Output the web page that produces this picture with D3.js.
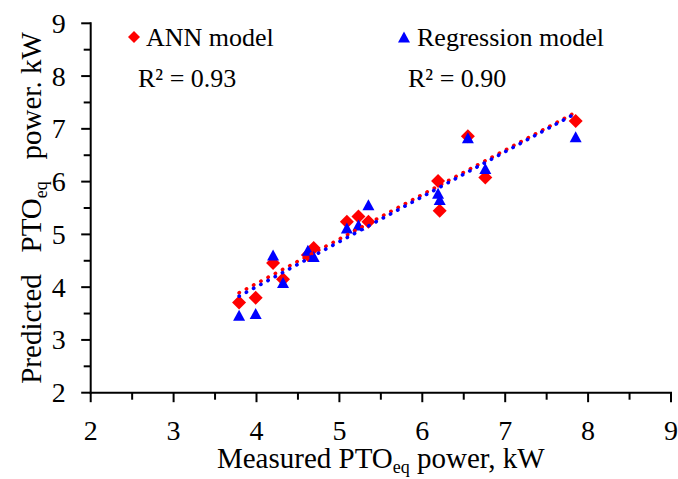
<!DOCTYPE html>
<html>
<head>
<meta charset="utf-8">
<script src="https://cdn.jsdelivr.net/npm/d3@7"></script>
<style>
  body { margin: 0; background: #fff; }
  svg text { font-family: "Liberation Serif", "Times New Roman", serif; fill: #000; }
</style>
</head>
<body>
<svg id="chart" width="678" height="479"></svg>
<script>
// measured PTOeq power (kW) and the two predictions
const measured   = [3.79, 3.99, 4.20, 4.32, 4.62, 4.69, 5.09, 5.23, 5.35, 6.19, 6.21, 6.55, 6.76, 7.85];
const annPred    = [3.71, 3.80, 4.46, 4.15, 4.61, 4.74, 5.24, 5.34, 5.24, 6.01, 5.45, 6.86, 6.08, 7.15];
const regPred    = [3.47, 3.50, 4.61, 4.09, 4.70, 4.58, 5.12, 5.18, 5.56, 5.78, 5.66, 6.83, 6.25, 6.85];
const tickValues = [2, 3, 4, 5, 6, 7, 8, 9];
const minorTicks = [2.5, 3.5, 4.5, 5.5, 6.5, 7.5, 8.5];
const seriesNames = ["ANN model", "Regression model"];
const r2Labels = ["R² = 0.93", "R² = 0.90"];

const svg = d3.select("#chart");
const x = d3.scaleLinear().domain([2, 9]).range([90.7, 671]);
const y = d3.scaleLinear().domain([2, 9]).range([392.7, 23.3]);

const red = "#ff0000", blue = "#0000ff";
const fs = 26, tickFs = 28, titleFs = 29;

const diamond = r => `M0,${-r}L${r},0L0,${r}L${-r},0Z`;
const triangle = (w, h) => `M0,${-h / 2}L${w / 2},${h / 2}L${-w / 2},${h / 2}Z`;

// axes
const xAxis = svg.append("g").attr("transform", `translate(0,${y(2)})`);
xAxis.append("line").attr("x1", x(2) - 1).attr("x2", x(9) + 1)
  .attr("stroke", "#000").attr("stroke-width", 2);
xAxis.selectAll("line.major").data(tickValues).enter().append("line")
  .attr("x1", d => x(d)).attr("x2", d => x(d)).attr("y1", 0).attr("y2", 9.5)
  .attr("stroke", "#000").attr("stroke-width", 2);
xAxis.selectAll("line.minor").data(minorTicks).enter().append("line")
  .attr("x1", d => x(d)).attr("x2", d => x(d)).attr("y1", 0).attr("y2", 7)
  .attr("stroke", "#000").attr("stroke-width", 2);
xAxis.selectAll("text").data(tickValues).enter().append("text")
  .attr("x", d => x(d)).attr("y", 47)
  .attr("text-anchor", "middle").style("font-size", tickFs + "px")
  .text(d => d);

const yAxis = svg.append("g").attr("transform", `translate(${x(2)},0)`);
yAxis.append("line").attr("y1", y(9) - 1).attr("y2", y(2) + 1)
  .attr("stroke", "#000").attr("stroke-width", 2);
yAxis.selectAll("line.major").data(tickValues).enter().append("line")
  .attr("y1", d => y(d)).attr("y2", d => y(d)).attr("x1", 0).attr("x2", -9.5)
  .attr("stroke", "#000").attr("stroke-width", 2);
yAxis.selectAll("line.minor").data(minorTicks).enter().append("line")
  .attr("y1", d => y(d)).attr("y2", d => y(d)).attr("x1", 0).attr("x2", -7)
  .attr("stroke", "#000").attr("stroke-width", 2);
yAxis.selectAll("text").data(tickValues).enter().append("text")
  .attr("x", -25).attr("y", d => y(d) + 9.5)
  .attr("text-anchor", "end").style("font-size", tickFs + "px")
  .text(d => d);

// axis titles
const xt = svg.append("text").attr("x", (x(2) + x(9)) / 2).attr("y", 468)
  .attr("text-anchor", "middle").style("font-size", titleFs + "px");
xt.append("tspan").text("Measured PTO");
xt.append("tspan").attr("dy", 5).style("font-size", "18px").text("eq");
xt.append("tspan").attr("dy", -5).text(" power, kW");

const yt = svg.append("text")
  .attr("transform", `translate(41,${(y(2) + y(9)) / 2}) rotate(-90)`)
  .attr("text-anchor", "middle").style("font-size", titleFs + "px")
  .attr("xml:space", "preserve");
yt.append("tspan").text("Predicted   PTO");
yt.append("tspan").attr("dy", 6).style("font-size", "18px").text("eq");
yt.append("tspan").attr("dy", -6).text("   power. kW");

// markers
const pts = measured.map((m, i) => ({ m, ann: annPred[i], reg: regPred[i] }));

svg.selectAll("path.ann").data(pts).enter().append("path")
  .attr("class", "ann")
  .attr("d", diamond(7))
  .attr("transform", d => `translate(${x(d.m)},${y(d.ann)})`)
  .attr("fill", red);

svg.selectAll("path.reg").data(pts).enter().append("path")
  .attr("class", "reg")
  .attr("d", triangle(12, 11))
  .attr("transform", d => `translate(${x(d.m)},${y(d.reg)})`)
  .attr("fill", blue);

// least squares trend lines
function fit(xs, ys) {
  const mx = d3.mean(xs), my = d3.mean(ys);
  let sxy = 0, sxx = 0;
  xs.forEach((v, i) => { sxy += (v - mx) * (ys[i] - my); sxx += (v - mx) * (v - mx); });
  const b = sxy / sxx;
  return v => my + b * (v - mx);
}
const ext = d3.extent(measured);
[[annPred, red], [regPred, blue]].forEach(([ys, col]) => {
  const f = fit(measured, ys);
  svg.append("line")
    .attr("x1", x(ext[0])).attr("y1", y(f(ext[0])))
    .attr("x2", x(ext[1])).attr("y2", y(f(ext[1])))
    .attr("stroke", col).attr("stroke-width", 3.6)
    .attr("stroke-linecap", "round")
    .attr("stroke-dasharray", "0.3 7.9");
});

// legend
svg.append("path").attr("d", diamond(6)).attr("transform", "translate(134,37)").attr("fill", red);
svg.append("text").attr("x", 146).attr("y", 46).style("font-size", fs + "px").text(seriesNames[0]);
svg.append("path").attr("d", triangle(12, 11)).attr("transform", "translate(404,37)").attr("fill", blue);
svg.append("text").attr("x", 417).attr("y", 46).style("font-size", fs + "px").text(seriesNames[1]);

svg.append("text").attr("x", 138).attr("y", 87).style("font-size", fs + "px").text(r2Labels[0]);
svg.append("text").attr("x", 408).attr("y", 87).style("font-size", fs + "px").text(r2Labels[1]);
</script>
</body>
</html>
